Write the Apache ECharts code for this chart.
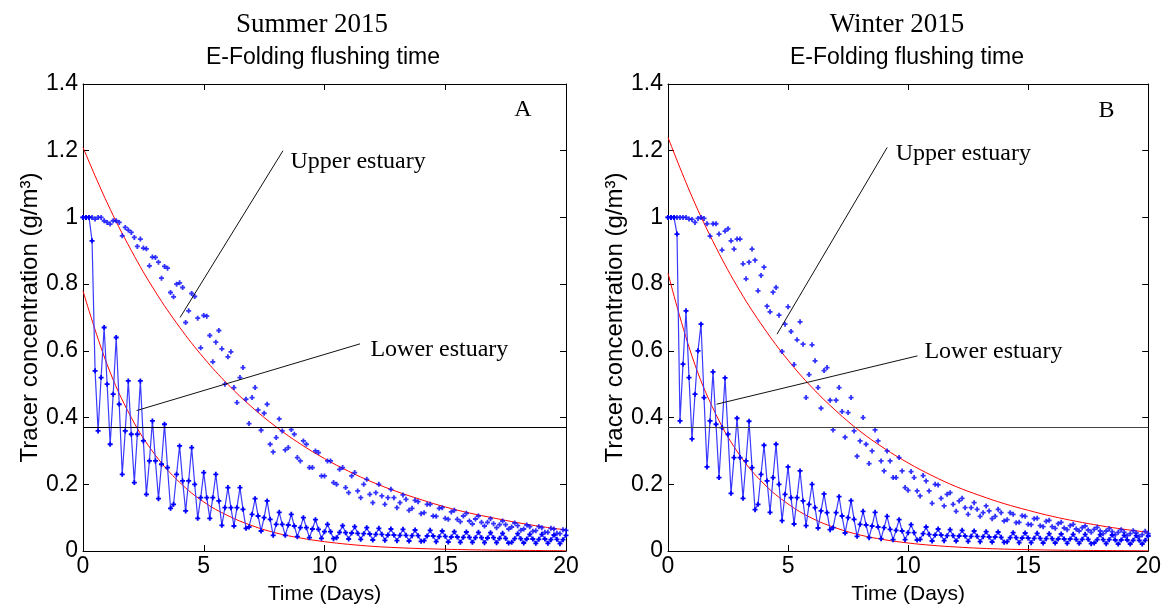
<!DOCTYPE html>
<html>
<head>
<meta charset="utf-8">
<script src="https://cdn.jsdelivr.net/npm/echarts@6/dist/echarts.min.js"></script>
<style>
html,body{margin:0;padding:0;background:#fff;}
#chart{width:1164px;height:610px;}
</style>
</head>
<body>
<div id="chart"></div>
<script>
// ---------- DATA ----------
const SAMPLE_STEP = 0.125; // days between model outputs (3 h)
const fitDays = [0,1,2,3,4,5,6,7,8,9,10,11,12,13,14,15,16,17,18,19,20];
const xTicks = [0,5,10,15,20];
const yTicks = [0,0.2,0.4,0.6,0.8,1,1.2,1.4];
const eFoldLevel = 0.368;

const summerLower = [
 1.00,1.00,1.00,0.93,0.54,0.36,0.52,0.67,0.50,0.32,
 0.47,0.64,0.44,0.23,0.36,0.51,0.35,0.205,0.35,0.51,
 0.33,0.17,0.27,0.39,0.27,0.157,0.26,0.38,0.25,0.128,
 0.14,0.23,0.315,0.21,0.12,0.21,0.31,0.20,0.098,0.16,
 0.235,0.16,0.098,0.16,0.23,0.15,0.077,0.13,0.19,0.13,
 0.075,0.13,0.19,0.125,0.068,0.072,0.11,0.157,0.105,0.06,
 0.10,0.15,0.095,0.047,0.08,0.116,0.08,0.047,0.078,0.11,
 0.075,0.043,0.07,0.10,0.07,0.04,0.066,0.094,0.065,0.038,
 0.058,0.08,0.058,0.037,0.04,0.056,0.076,0.055,0.036,0.054,
 0.073,0.053,0.035,0.052,0.07,0.051,0.033,0.05,0.068,0.05,
 0.032,0.048,0.066,0.048,0.031,0.047,0.065,0.047,0.03,0.046,
 0.063,0.046,0.029,0.031,0.045,0.062,0.045,0.028,0.043,0.06,
 0.044,0.027,0.042,0.058,0.042,0.026,0.041,0.057,0.041,0.026,
 0.04,0.056,0.04,0.025,0.039,0.055,0.04,0.025,0.038,0.053,
 0.038,0.024,0.026,0.037,0.052,0.037,0.024,0.036,0.05,0.036,
 0.023,0.035,0.05,0.036,0.023,0.034,0.048,0.035,0.022,0.034,
 0.047];

const summerUpper = [
 1.00,1.00,1.00,1.00,0.995,1.00,1.00,0.99,0.985,0.98,
 0.99,0.99,0.985,0.945,0.97,0.962,0.955,0.94,0.913,0.935,
 0.908,0.906,0.855,0.881,0.88,0.866,0.818,0.853,0.848,0.775,
 0.762,0.80,0.804,0.79,0.685,0.72,0.772,0.763,0.698,0.609,
 0.706,0.704,0.646,0.567,0.626,0.661,0.606,0.50,0.582,0.597,
 0.49,0.445,0.52,0.55,0.455,0.382,0.46,0.49,0.423,0.362,
 0.413,0.44,0.32,0.297,0.34,0.396,0.36,0.303,0.31,0.364,
 0.35,0.28,0.27,0.33,0.32,0.25,0.25,0.30,0.295,0.225,
 0.225,0.27,0.27,0.205,0.20,0.245,0.25,0.19,0.175,0.225,
 0.235,0.18,0.16,0.20,0.215,0.17,0.145,0.175,0.20,0.165,
 0.14,0.16,0.185,0.16,0.13,0.145,0.168,0.155,0.122,0.128,
 0.152,0.148,0.112,0.115,0.14,0.14,0.105,0.104,0.128,0.13,
 0.098,0.095,0.117,0.122,0.095,0.088,0.105,0.113,0.09,0.081,
 0.096,0.105,0.086,0.075,0.086,0.097,0.082,0.07,0.079,0.09,
 0.079,0.066,0.072,0.084,0.076,0.062,0.066,0.078,0.073,0.059,
 0.061,0.073,0.07,0.056,0.056,0.068,0.066,0.053,0.052,0.064,
 0.062];

const winterLower = [
 1.00,1.00,1.00,0.95,0.39,0.56,0.72,0.52,0.336,0.47,
 0.60,0.68,0.46,0.252,0.39,0.537,0.38,0.22,0.37,0.519,
 0.35,0.173,0.28,0.398,0.28,0.158,0.27,0.389,0.25,0.124,
 0.14,0.23,0.317,0.21,0.116,0.22,0.32,0.20,0.091,0.17,
 0.252,0.16,0.081,0.16,0.24,0.15,0.076,0.14,0.20,0.13,
 0.069,0.12,0.171,0.115,0.064,0.07,0.115,0.163,0.105,0.054,
 0.10,0.151,0.095,0.044,0.08,0.119,0.078,0.04,0.075,0.116,
 0.072,0.037,0.07,0.104,0.065,0.034,0.062,0.094,0.06,0.034,
 0.055,0.079,0.055,0.033,0.035,0.052,0.072,0.05,0.03,0.048,
 0.066,0.048,0.031,0.046,0.064,0.046,0.03,0.045,0.062,0.045,
 0.029,0.044,0.06,0.044,0.028,0.043,0.058,0.042,0.027,0.042,
 0.057,0.041,0.026,0.028,0.04,0.055,0.04,0.025,0.039,0.054,
 0.039,0.025,0.038,0.053,0.038,0.024,0.037,0.052,0.037,0.024,
 0.036,0.051,0.036,0.023,0.036,0.05,0.035,0.023,0.035,0.05,
 0.035,0.022,0.024,0.034,0.049,0.034,0.022,0.034,0.048,0.033,
 0.021,0.033,0.047,0.033,0.021,0.032,0.046,0.032,0.021,0.032,
 0.045];

const winterUpper = [
 1.00,1.00,1.00,1.00,1.00,1.00,1.00,0.995,0.994,0.985,
 0.997,1.00,0.997,0.981,0.944,0.981,0.981,0.95,0.902,0.959,
 0.966,0.93,0.905,0.935,0.935,0.861,0.816,0.866,0.905,0.872,
 0.78,0.826,0.851,0.734,0.717,0.776,0.79,0.707,0.598,0.68,
 0.732,0.658,0.559,0.633,0.687,0.62,0.46,0.529,0.618,0.57,
 0.49,0.428,0.541,0.55,0.452,0.363,0.452,0.49,0.418,0.341,
 0.415,0.46,0.36,0.284,0.33,0.40,0.32,0.262,0.30,0.363,
 0.33,0.27,0.24,0.30,0.27,0.22,0.22,0.28,0.24,0.19,
 0.182,0.238,0.22,0.18,0.165,0.226,0.21,0.18,0.143,0.20,
 0.198,0.158,0.135,0.17,0.175,0.14,0.119,0.15,0.158,0.13,
 0.11,0.13,0.145,0.125,0.104,0.115,0.135,0.12,0.097,0.104,
 0.125,0.115,0.09,0.094,0.115,0.11,0.085,0.086,0.106,0.104,
 0.08,0.079,0.097,0.098,0.076,0.073,0.089,0.092,0.073,0.068,
 0.082,0.086,0.069,0.064,0.076,0.08,0.066,0.06,0.07,0.075,
 0.063,0.056,0.065,0.071,0.06,0.052,0.06,0.067,0.058,0.049,
 0.056,0.064,0.056,0.046,0.052,0.061,0.054,0.043,0.049,0.059,
 0.052];

const summerUpperFit = [1.21,1.044,0.901,0.777,0.671,0.579,0.4995,0.431,0.372,0.321,0.277,0.239,0.206,0.178,0.154,0.132,0.114,0.099,0.085,0.073,0.063];
const summerLowerFit = [0.78,0.559,0.400,0.287,0.206,0.147,0.106,0.076,0.054,0.039,0.028,0.020,0.014,0.010,0.0073,0.0052,0.0037,0.0027,0.0019,0.0014,0.001];
const winterUpperFit = [1.24,1.062,0.910,0.779,0.668,0.572,0.490,0.420,0.359,0.308,0.264,0.226,0.193,0.166,0.142,0.122,0.104,0.089,0.076,0.065,0.056];
const winterLowerFit = [0.833,0.584,0.409,0.286,0.201,0.141,0.098,0.069,0.048,0.034,0.024,0.017,0.012,0.0082,0.0057,0.004,0.0028,0.002,0.0014,0.001,0.0007];

const panelTitles = ['Summer 2015','Winter 2015'];
const panelSubtitle = 'E-Folding flushing time';
const panelLetters = ['A','B'];
const xName = 'Time (Days)';
const yName = 'Tracer concentration (g/m\u00B3)';
const labelUpper = 'Upper estuary';
const labelLower = 'Lower estuary';

// annotation anchor points in data units [day, concentration]
const summerUpperPointer = [[4.02,0.70],[8.28,1.20]];
const summerLowerPointer = [[2.22,0.421],[11.47,0.621]];
const winterUpperPointer = [[4.54,0.65],[9.13,1.21]];
const winterLowerPointer = [[2.02,0.44],[10.39,0.585]];
const summerTextAt = {upper:[8.57,1.166], lower:[11.88,0.602], letter:[18.22,1.323]};
const winterTextAt = {upper:[9.46,1.19], lower:[10.66,0.596], letter:[18.26,1.32]};

// ---------- CHART ----------
const SANS = 'Liberation Sans, Arial, sans-serif';
const SERIF = 'Liberation Serif, Times New Roman, serif';
const PLUS = 'path://M0,1.6H5V3.4H0Z M1.6,0H3.4V5H1.6Z';

const grids = [
  {left:83, top:84, width:483, height:472},
  {left:668, top:84, width:482, height:471}
];

function toPairs(arr){ return arr.map((v,i)=>[i*SAMPLE_STEP, v]); }
function fitPairs(arr){ return fitDays.map((d,i)=>[d, arr[i]]); }

const xAxes = [], yAxes = [];
grids.forEach((g,gi)=>{
  xAxes.push({
    gridIndex:gi, type:'value', min:xTicks[0], max:xTicks[xTicks.length-1], interval:xTicks[1]-xTicks[0],
    position:'bottom',
    axisLine:{show:true,onZero:false,lineStyle:{color:'#000',width:1}},
    axisTick:{show:true,inside:true,length:6,lineStyle:{color:'#000'}},
    axisLabel:{show:true,color:'#000',fontSize:23,fontFamily:SANS,margin:4},
    splitLine:{show:false},
    name:xName, nameLocation:'middle', nameGap:33,
    nameTextStyle:{color:'#000',fontSize:21,fontFamily:SANS}
  });
  xAxes.push({
    gridIndex:gi, type:'value', min:xTicks[0], max:xTicks[xTicks.length-1], interval:xTicks[1]-xTicks[0],
    position:'top',
    axisLine:{show:true,onZero:false,lineStyle:{color:'#000',width:1}},
    axisTick:{show:true,inside:true,length:6,lineStyle:{color:'#000'}},
    axisLabel:{show:false}, splitLine:{show:false}
  });
  yAxes.push({
    gridIndex:gi, type:'value', min:yTicks[0], max:yTicks[yTicks.length-1], interval:yTicks[1]-yTicks[0],
    position:'left',
    axisLine:{show:true,onZero:false,lineStyle:{color:'#000',width:1}},
    axisTick:{show:true,inside:true,length:6,lineStyle:{color:'#000'}},
    axisLabel:{show:true,color:'#000',fontSize:23,fontFamily:SANS,margin:5},
    splitLine:{show:false},
    name:yName, nameLocation:'middle', nameGap:40, nameRotate:90,
    nameTextStyle:{color:'#000',fontSize:24,fontFamily:SANS}
  });
  yAxes.push({
    gridIndex:gi, type:'value', min:yTicks[0], max:yTicks[yTicks.length-1], interval:yTicks[1]-yTicks[0],
    position:'right',
    axisLine:{show:true,onZero:false,lineStyle:{color:'#000',width:1}},
    axisTick:{show:true,inside:true,length:6,lineStyle:{color:'#000'}},
    axisLabel:{show:false}, splitLine:{show:false}
  });
});

const panels = [
  {upper:summerUpper, lower:summerLower, fitU:summerUpperFit, fitL:summerLowerFit,
   pU:summerUpperPointer, pL:summerLowerPointer, txt:summerTextAt},
  {upper:winterUpper, lower:winterLower, fitU:winterUpperFit, fitL:winterLowerFit,
   pU:winterUpperPointer, pL:winterLowerPointer, txt:winterTextAt}
];

const textLabel = (pos, text) => ({show:true, position:pos, distance:0, formatter:text,
  color:'#000', opacity:1, fontSize:24, fontFamily:SERIF, textBorderWidth:0});

const series = [];
panels.forEach((p,pi)=>{
  const xi = pi*2, yi = pi*2;
  const fitStyle = {type:'line', xAxisIndex:xi, yAxisIndex:yi, smooth:0.4, showSymbol:false,
    symbol:'none', lineStyle:{color:'#ff0000',width:1}, z:3, silent:true};
  series.push(Object.assign({}, fitStyle, {data:fitPairs(p.fitU)}));
  series.push(Object.assign({}, fitStyle, {data:fitPairs(p.fitL)}));
  series.push({type:'line', xAxisIndex:xi, yAxisIndex:yi, data:toPairs(p.lower),
    symbol:PLUS, symbolSize:5, showSymbol:true,
    lineStyle:{color:'#3a3aff',width:1.2}, itemStyle:{color:'#0000ff'}, z:4, silent:true});
  series.push({type:'scatter', xAxisIndex:xi, yAxisIndex:yi, data:toPairs(p.upper),
    symbol:PLUS, symbolSize:5, itemStyle:{color:'#0000ff'}, z:4, silent:true});
  series.push({type:'line', xAxisIndex:xi, yAxisIndex:yi, data:[], silent:true,
    markLine:{silent:true, symbol:['none','none'], animation:false,
      label:{show:false}, lineStyle:{color:'#111',width:1,type:'solid'},
      data:[
        {yAxis:eFoldLevel, lineStyle:{color: pi===0 ? '#000' : '#444'}},
        [{coord:p.pU[0]},{coord:p.pU[1]}],
        [{coord:p.pL[0]},{coord:p.pL[1]}]
      ]}});
  series.push({type:'scatter', xAxisIndex:xi, yAxisIndex:yi, symbolSize:1,
    itemStyle:{color:'rgba(255,255,255,0)'}, silent:true, z:6,
    data:[
      {value:p.txt.upper, label:textLabel('right', labelUpper)},
      {value:p.txt.lower, label:textLabel('right', labelLower)},
      {value:p.txt.letter, label:textLabel('inside', panelLetters[pi])}
    ]});
});

const titles = [
  {text:panelTitles[0], left:312, top:11, textAlign:'center', padding:0,
   textStyle:{fontFamily:SERIF,fontSize:27,fontWeight:'normal',color:'#000'}},
  {text:panelSubtitle, left:323, top:46, textAlign:'center', padding:0,
   textStyle:{fontFamily:SANS,fontSize:23,fontWeight:'normal',color:'#000'}},
  {text:panelTitles[1], left:897, top:11, textAlign:'center', padding:0,
   textStyle:{fontFamily:SERIF,fontSize:27,fontWeight:'normal',color:'#000'}},
  {text:panelSubtitle, left:907, top:46, textAlign:'center', padding:0,
   textStyle:{fontFamily:SANS,fontSize:23,fontWeight:'normal',color:'#000'}}
];

const chart = echarts.init(document.getElementById('chart'), null, {renderer:'canvas'});
chart.setOption({
  animation:false,
  backgroundColor:'#fff',
  title:titles,
  grid:grids,
  xAxis:xAxes,
  yAxis:yAxes,
  series:series
});
</script>
</body>
</html>
